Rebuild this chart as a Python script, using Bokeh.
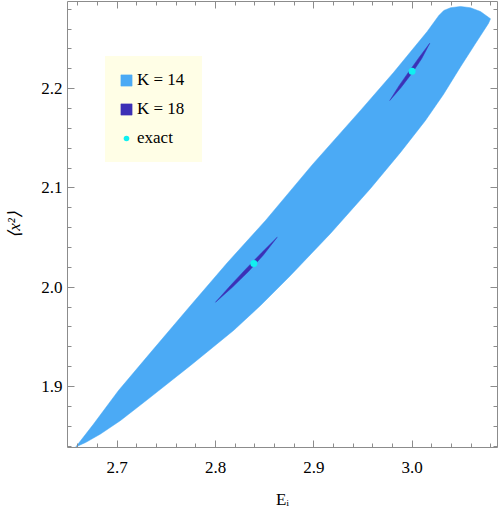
from bokeh.plotting import figure
from bokeh.models import (Range1d, LinearAxis, FixedTicker, CustomJSTickFormatter,
                          Legend, LegendItem)
from bokeh.embed import file_html
from bokeh.resources import INLINE
import numpy as np

# ---------------- data ----------------
# K = 14 allowed region (outer boundary, ordered)
k14_x = [2.6578, 2.6617, 2.6759, 2.7013, 2.7339, 2.7746, 2.8122, 2.8509, 2.8987,
         2.9475, 2.9811, 3.0154, 3.0272, 3.0323, 3.0391, 3.0492, 3.0594, 3.0696,
         3.0798,
         3.0777, 3.0645, 3.0492, 3.0319, 3.0136, 2.9882, 2.9577, 2.9170, 2.8763,
         2.8458, 2.8183, 2.7746, 2.7308, 2.7034, 2.6830, 2.6678]
k14_y = [1.8392, 1.8441, 1.8622, 1.8960, 1.9342, 1.9816, 2.0249, 2.0672, 2.1236,
         2.1780, 2.2162, 2.2575, 2.2736, 2.2787, 2.2814, 2.2827, 2.2814, 2.2776,
         2.2703,
         2.2656, 2.2454, 2.2218, 2.1941, 2.1679, 2.1357, 2.0994, 2.0541, 2.0118,
         1.9816, 1.9564, 1.9212, 1.8869, 1.8658, 1.8522, 1.8436]

# K = 18 allowed regions (two thin islands)
k18a_x = [2.8000, 2.8152, 2.8307, 2.8466, 2.8628, 2.8487, 2.8335, 2.8171]
k18a_y = [1.9849, 2.0017, 2.0182, 2.0344, 2.0504, 2.0324, 2.0157, 1.9999]
k18b_x = [2.9773, 2.9866, 2.9969, 3.0073, 3.0180, 3.0097, 2.9998, 2.9890]
k18b_y = [2.1880, 2.2027, 2.2173, 2.2316, 2.2457, 2.2300, 2.2154, 2.2014]

# exact values
exact_x = [2.839, 3.000]
exact_y = [2.024, 2.2175]

# ticks
x_major = [2.7, 2.8, 2.9, 3.0]
x_labels = ["2.7", "2.8", "2.9", "3.0"]
y_major = [1.9, 2.0, 2.1, 2.2]
y_labels = ["1.9", "2.0", "2.1", "2.2"]
x_minor = [round(v, 2) for v in np.arange(2.66, 3.081, 0.02)]
y_minor = [round(v, 2) for v in np.arange(1.84, 2.281, 0.02)]

LIGHT = "#4BAAF5"
DARK = "#3C30B6"
CYAN = "#10F0F0"
AXC = "#8c8c8c"
LEGBG = "#FFFEE6"
FONT = "Liberation Serif"

p = figure(width=498, height=514,
           x_range=Range1d(2.6494, 3.0869), y_range=Range1d(1.8386, 2.2877),
           output_backend="svg", toolbar_location=None,
           min_border_left=67, min_border_right=1, min_border_top=1, min_border_bottom=67)
p.xgrid.grid_line_color = None
p.ygrid.grid_line_color = None
p.outline_line_color = None
p.background_fill_color = "white"

r14 = p.patch(k14_x, k14_y, fill_color=LIGHT, line_color=LIGHT, line_width=0.5)
r18 = p.patches([k18a_x, k18b_x], [k18a_y, k18b_y], fill_color=DARK, line_color=DARK, line_width=0.5)
rex = p.scatter(exact_x, exact_y, size=7, fill_color=CYAN, line_color=None)


def style_axis(ax, major, minor, labels=None):
    ax.ticker = FixedTicker(ticks=major, minor_ticks=minor)
    ax.axis_line_color = AXC
    ax.major_tick_line_color = AXC
    ax.minor_tick_line_color = AXC
    ax.major_tick_in = 7
    ax.major_tick_out = 0
    ax.minor_tick_in = 4
    ax.minor_tick_out = 0
    if labels is None:
        ax.formatter = CustomJSTickFormatter(code="return ''")
        ax.major_label_standoff = 0
    else:
        ax.major_label_overrides = {m: l for m, l in zip(major, labels)}
        ax.major_label_text_font = FONT
        ax.major_label_text_font_size = "17px"
        ax.major_label_text_color = "black"


xa = p.xaxis[0]
ya = p.yaxis[0]
style_axis(xa, x_major, x_minor, x_labels)
style_axis(ya, y_major, y_minor, y_labels)
xa.major_label_standoff = 14
ya.major_label_standoff = 5

xa.axis_label = "Eᵢ"
xa.axis_label_text_font = FONT
xa.axis_label_text_font_size = "17px"
xa.axis_label_text_font_style = "normal"
xa.axis_label_text_color = "black"
xa.axis_label_standoff = 14

ya.axis_label = "⟨x²⟩"
ya.axis_label_text_font = FONT
ya.axis_label_text_font_size = "17px"
ya.axis_label_text_font_style = "italic"
ya.axis_label_text_color = "black"
ya.axis_label_standoff = 14

top = LinearAxis()
style_axis(top, x_major, x_minor)
p.add_layout(top, "above")
right = LinearAxis()
style_axis(right, y_major, y_minor)
p.add_layout(right, "right")

legend = Legend(items=[LegendItem(label="K = 14", renderers=[r14]),
                       LegendItem(label="K = 18", renderers=[r18]),
                       LegendItem(label="exact", renderers=[rex])],
                location=(38, 285), padding=13, spacing=9, margin=0,
                glyph_width=14, glyph_height=14, label_height=20, label_width=51,
                label_standoff=4,
                background_fill_color=LEGBG, background_fill_alpha=1.0,
                border_line_color=LEGBG, border_line_alpha=1.0, border_line_width=1,
                label_text_font=FONT, label_text_font_size="17px",
                label_text_color="black")
p.add_layout(legend)

open("out.html", "w").write(file_html(p, INLINE))
